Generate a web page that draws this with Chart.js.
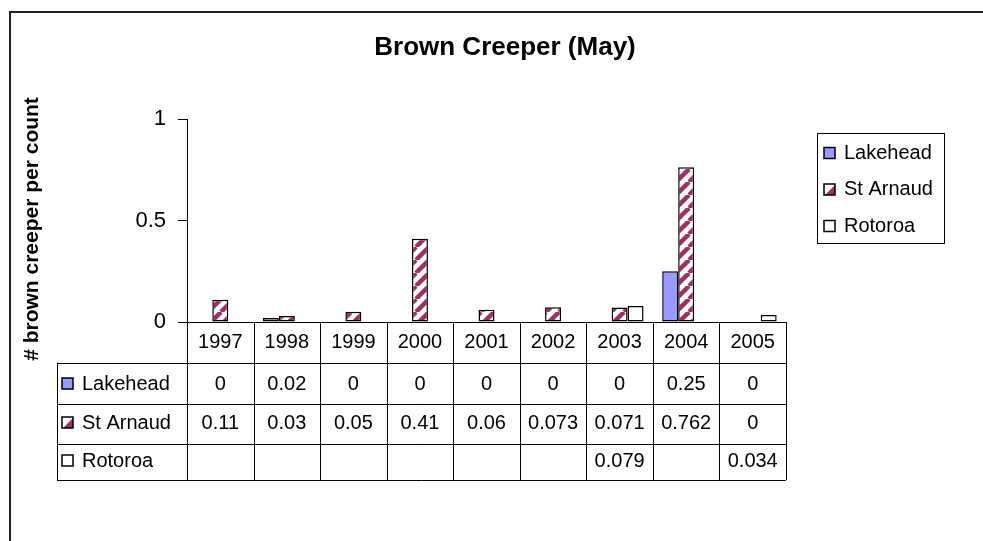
<!DOCTYPE html>
<html><head><meta charset="utf-8">
<script src="https://cdn.jsdelivr.net/npm/chart.js@4.4.1/dist/chart.umd.min.js"></script>
<style>html,body{margin:0;padding:0;background:#fff;overflow:hidden}canvas{display:block}</style>
</head><body>
<canvas id="c" width="983" height="541"></canvas>
<script>
const categories = ['1997','1998','1999','2000','2001','2002','2003','2004','2005'];
const seriesNames = ['Lakehead','St Arnaud','Rotoroa'];
const lakehead = [0, 0.02, 0, 0, 0, 0, 0, 0.25, 0];
const stArnaud = [0.11, 0.03, 0.05, 0.41, 0.06, 0.073, 0.071, 0.762, 0];
const rotoroa  = [null, null, null, null, null, null, 0.079, null, 0.034];
const yTickStep = 0.5;
const chartTitle = 'Brown Creeper (May)';
const yTitle = '# brown creeper per count';

const FONT = '"Liberation Sans", Arial, Helvetica, sans-serif';
const MAROON = '#993366', LAVENDER = '#9999FF';

function makeStripe(){
  const P = 13, c = document.createElement('canvas'); c.width = P; c.height = P;
  const g = c.getContext('2d');
  g.fillStyle = '#fff'; g.fillRect(0,0,P,P);
  g.strokeStyle = MAROON; g.lineWidth = 4.5;
  for (let k = -1; k <= 1; k++){ g.beginPath(); g.moveTo(k*P, P); g.lineTo(k*P+P, 0); g.stroke(); }
  return g.createPattern(c, 'repeat');
}
const stripe = makeStripe();

function drawMarker(ctx, i, x, y, s){
  ctx.save();
  if (i === 0){ ctx.fillStyle = LAVENDER; ctx.fillRect(x,y,s,s); }
  else {
    ctx.fillStyle = '#fff'; ctx.fillRect(x,y,s,s);
    if (i === 1){
      ctx.fillStyle = MAROON; ctx.beginPath();
      ctx.moveTo(x+s, y+1); ctx.lineTo(x+s, y+s); ctx.lineTo(x+1, y+s); ctx.closePath(); ctx.fill();
    }
  }
  ctx.strokeStyle = '#000'; ctx.lineWidth = 1.5; ctx.strokeRect(x,y,s,s);
  ctx.restore();
}

const L = {tableLeft: 57, rows: [363, 404, 444, 480], headerMid: 342, rowMid: [384, 423, 461]};

const decor = {
  id: 'decor',
  beforeDraw(chart){
    const ctx = chart.ctx; ctx.save();
    ctx.fillStyle = '#fff'; ctx.fillRect(0,0,chart.width,chart.height);
    ctx.strokeStyle = '#222'; ctx.lineWidth = 2; ctx.strokeRect(10, 12, 1100, 700);
    ctx.restore();
  },
  afterDraw(chart){
    const ctx = chart.ctx, xs = chart.scales.x, ca = chart.chartArea;
    const n = categories.length, w = (ca.right - ca.left) / n;
    const px = v => Math.round(v) + 0.5;
    ctx.save();
    ctx.fillStyle = '#000';
    // title
    ctx.textAlign = 'center'; ctx.textBaseline = 'middle';
    ctx.font = 'bold 26px ' + FONT; ctx.fillText(chartTitle, 505, 48);
    // y title
    ctx.save(); ctx.translate(32, 229); ctx.rotate(-Math.PI/2);
    ctx.font = 'bold 21px ' + FONT; ctx.fillText(yTitle, 0, 0); ctx.restore();
    // table lines
    ctx.strokeStyle = '#000'; ctx.lineWidth = 1;
    ctx.beginPath();
    ctx.moveTo(ca.left, px(ca.bottom)); ctx.lineTo(ca.right, px(ca.bottom));
    L.rows.forEach(y => { ctx.moveTo(L.tableLeft, px(y)); ctx.lineTo(ca.right, px(y)); });
    for (let i = 0; i <= n; i++){ const x = px(ca.left + i*w); ctx.moveTo(x, ca.bottom); ctx.lineTo(x, L.rows[3]); }
    ctx.moveTo(px(L.tableLeft), L.rows[0]); ctx.lineTo(px(L.tableLeft), L.rows[3]);
    ctx.stroke();
    // header labels
    ctx.font = '20px ' + FONT; ctx.textAlign = 'center';
    categories.forEach((c, i) => ctx.fillText(c, xs.getPixelForValue(i), L.headerMid));
    // rows
    chart.data.datasets.forEach((ds, j) => {
      const y = L.rowMid[j];
      drawMarker(ctx, j, 62, y - 6, 11);
      ctx.textAlign = 'left'; ctx.fillText(ds.label, 82, y);
      ctx.textAlign = 'center';
      ds.data.forEach((v, i) => { if (v !== null && v !== undefined) ctx.fillText(String(v), xs.getPixelForValue(i), y); });
    });
    // legend
    ctx.lineWidth = 1; ctx.strokeRect(817.5, 133.5, 127, 110);
    const ly = [153, 189.5, 226];
    chart.data.datasets.forEach((ds, j) => {
      drawMarker(ctx, j, 824, ly[j] - 5.5, 11);
      ctx.textAlign = 'left'; ctx.fillText(ds.label, 844, ly[j]);
    });
    ctx.restore();
  }
};

const barCommon = {borderColor: '#000', borderWidth: 1.5, borderSkipped: false, categoryPercentage: 0.72, barPercentage: 1.0};

new Chart(document.getElementById('c'), {
  type: 'bar',
  data: {
    labels: categories,
    datasets: [
      Object.assign({label: seriesNames[0], data: lakehead, backgroundColor: LAVENDER}, barCommon),
      Object.assign({label: seriesNames[1], data: stArnaud, backgroundColor: stripe}, barCommon),
      Object.assign({label: seriesNames[2], data: rotoroa, backgroundColor: '#fff'}, barCommon)
    ]
  },
  options: {
    responsive: false, animation: false, devicePixelRatio: 1,
    layout: {padding: {left: 0, top: 119, right: 197, bottom: 219}},
    plugins: {legend: {display: false}, title: {display: false}, tooltip: {enabled: false}},
    scales: {
      x: {display: false},
      y: {
        min: 0, max: 1,
        afterFit(s){ s.width = 187; },
        ticks: {stepSize: yTickStep, color: '#000', font: {family: FONT, size: 22}, padding: 12,
                callback: v => String(v)},
        grid: {drawOnChartArea: false, color: '#000', tickLength: 9, lineWidth: 1},
        border: {color: '#000', width: 1}
      }
    }
  },
  plugins: [decor]
});
</script>
</body></html>
